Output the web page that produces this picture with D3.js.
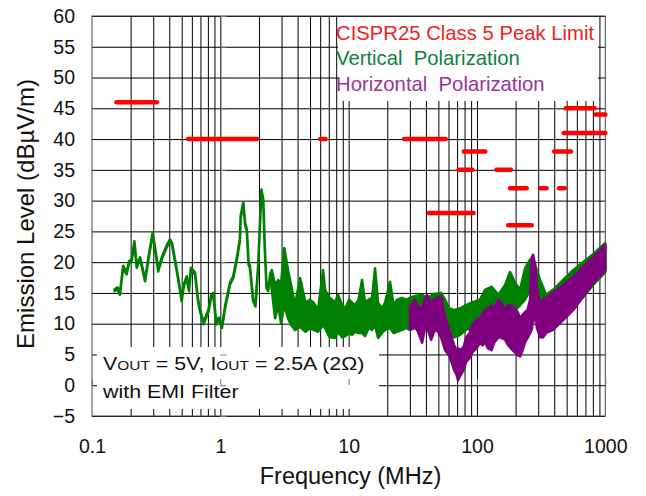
<!DOCTYPE html>
<html><head><meta charset="utf-8">
<script src="https://cdn.jsdelivr.net/npm/d3@7"></script>
<style>
body{margin:0;background:#fff}
svg{display:block}
text{font-family:"Liberation Sans",Arial,sans-serif}
</style>
</head><body>
<svg id="c" width="646" height="496"></svg>
<script>
// ---------- data ----------
const yTicks = [-5,0,5,10,15,20,25,30,35,40,45,50,55,60];
const xTicks = [0.1,1,10,100,1000];
const xTickLabels = ["0.1","1","10","100","1000"];
const xGrid = [0.2,0.3,0.4,0.5,0.6,0.7,0.8,0.9,1,2,3,4,5,6,7,8,9,10,20,30,40,50,60,70,80,90,100,200,300,400,500,600,700,800,900];

// CISPR25 class 5 peak limit segments (MHz, dBuV/m)
const limitStart = [0.155,0.56,6.0,27,42,72,79,142,181,313,436,175,400,490,842,474];
const limitEnd   = [0.32,1.93,6.6,57,94,92,116,184,244,349,482,267,540,825,1000,1000];
const limitLevel = [46,40,40,40,28,35,38,35,32,32,32,26,38,45,44,41];

// Vertical polarization (green): frequency, upper and lower edge of trace
const vertFreq = [0.15,0.158,0.165,0.175,0.186,0.194,0.204,0.214,0.223,0.237,0.259,0.278,0.297,0.31,0.328,0.35,0.38,0.405,0.42,0.458,0.50,0.52,0.547,0.57,0.59,0.635,0.67,0.695,0.74,0.78,0.81,0.85,0.88,0.93,0.975,1.03,1.09,1.19,1.26,1.34,1.42,1.44,1.51,1.56,1.61,1.66,1.70,1.80,1.88,1.97,2.09,2.16,2.22,2.29,2.36,2.45,
  2.52,2.67,2.83,2.97,3.15,3.37,3.56,3.82,4.18,4.61,5.0,5.33,5.77,6.32,6.55,7.10,7.84,8.27,8.88,9.46,10.07,10.63,11.22,11.95,12.72,13.43,14.30,15.22,16.06,16.95,18.21,19.21,21.02,22.39,23.84,26.08,28.03,30.10,32.92,37.35,40.84,46.30,52.51,56.42,60.60,66.30,73.85,82.25,92.41,105.7,115.6,130.0,147.4,165.6,181.1,198.2,216.8,237.1,259.3,283.8,310.3,345.6,391.8,469.0,561.1,671.4,803.4,1000];
const vertHigh = [15.6,15.9,15.0,19.4,18.3,20.1,20.5,23.4,19.4,20.8,17.2,21.3,24.8,22.4,18.8,20.8,22.6,23.7,23.1,18.8,14.0,16.4,17.7,15.6,19.1,18.3,14.0,12.3,10.2,11.5,12.3,14.7,15.0,10.2,11.0,9.6,12.9,16.7,17.7,20.5,23.7,27.5,29.7,26.4,25.3,19.9,19.4,14.0,13.1,19.4,31.8,30.2,22.6,16.1,15.6,18.1,
  18.7,16.3,17.1,16.3,22.3,18.7,16.3,13.0,17.4,13.4,13.9,13.4,12.2,18.7,15.5,14.2,13.5,14.7,13.0,12.5,13.9,13.4,13.0,13.9,17.1,13.4,13.9,14.2,19.0,13.4,12.5,13.4,16.8,13.0,13.9,14.2,13.9,14.2,14.5,14.7,14.2,14.8,15.0,13.9,12.5,12.2,12.5,13.0,13.5,13.9,15.5,16.0,14.7,16.3,18.4,16.6,15.5,19.0,20.4,19.5,17.1,14.7,15.5,17.1,18.7,20.0,21.3,23.1];
const vertLow = [15.3,15.6,14.7,19.1,18.0,19.8,20.2,23.1,19.1,20.5,16.9,21.0,24.5,22.1,18.5,20.5,22.3,23.4,22.8,18.5,13.7,16.1,17.4,15.3,18.8,18.0,13.7,12.0,9.9,11.2,12.0,14.4,14.7,9.9,10.7,9.3,12.6,16.4,17.4,20.2,23.4,27.2,29.4,26.1,25.0,19.6,19.1,13.7,12.8,19.1,31.5,29.9,22.3,15.8,15.3,17.8,
  15.5,10.9,13.0,10.1,13.0,10.9,9.8,9.0,9.5,8.7,9.3,9.0,8.7,9.8,9.3,7.8,7.7,8.7,7.8,8.0,8.5,8.2,8.7,8.5,8.5,8.0,9.3,9.0,9.8,7.7,8.5,9.0,9.3,8.5,8.7,9.0,9.3,9.0,9.3,9.0,9.3,9.0,9.8,9.0,8.2,7.8,8.2,9.0,9.3,9.8,10.6,10.9,10.9,11.4,13.0,12.2,13.0,13.9,15.5,13.9,12.2,11.9,10.3,10.9,12.5,14.3,16.3,18.4];

// Horizontal polarization (purple)
const horFreq = [30.1,32.92,34.75,37.35,39.05,40.84,43.88,46.30,48.87,52.51,56.42,60.60,63.39,66.30,69.34,71.24,73.85,78.64,82.25,87.56,92.41,99.3,105.7,110.6,115.6,122.0,130.0,135.9,147.4,154.1,165.6,174.8,189.4,207.3,216.8,226.7,237.1,248.0,259.3,266.4,273.6,283.8,294.1,310.3,327.5,345.6,391.8,469.0,561.1,671.4,803.4,1000];
const horHigh = [12.7,13.9,12.9,12.2,13.9,14.7,13.0,13.9,14.2,14.4,11.1,9.0,7.8,6.5,5.7,6.0,5.7,6.2,7.7,8.5,9.8,10.6,10.9,11.7,12.2,12.5,13.0,12.5,13.9,13.4,12.2,13.0,12.9,11.9,10.9,11.4,11.9,12.2,13.9,20.7,21.2,19.5,15.5,13.0,13.9,14.2,15.0,16.3,17.6,19.2,20.8,22.8];
const horLow  = [9.0,9.5,8.7,6.9,9.0,9.5,7.4,8.7,9.0,7.8,5.7,4.9,3.8,2.5,1.7,0.8,1.5,2.5,3.8,4.4,5.4,6.0,6.9,6.5,7.0,6.0,5.7,6.9,7.8,7.7,7.4,6.5,5.7,4.9,4.7,5.7,7.0,7.7,8.5,9.0,10.6,10.9,9.3,7.8,7.8,8.5,9.0,10.6,12.2,14.4,16.6,18.7];

const legendLabels = ["CISPR25 Class 5 Peak Limit","Vertical  Polarization","Horizontal  Polarization"];
const legendColors = ["#f01e23","#108040","#993399"];

// ---------- drawing ----------
const svg = d3.select("#c");
const L = 92, R = 605.3, T = 16, B = 416;
const x = d3.scaleLog().domain([0.1,1000]).range([L,R]);
const y = d3.scaleLinear().domain([-5,60]).range([B,T]);

// grid
const gx = svg.append("g").attr("transform",`translate(0,${B})`)
  .call(d3.axisBottom(x).tickValues(xGrid).tickSize(-(B-T)).tickFormat(""));
gx.select(".domain").remove();
gx.selectAll("line").attr("stroke","#000").attr("stroke-width",1);
const gy = svg.append("g").attr("transform",`translate(${L},0)`)
  .call(d3.axisLeft(y).tickValues(yTicks).tickSize(-(R-L)).tickFormat(""));
gy.select(".domain").remove();
gy.selectAll("line").attr("stroke","#000").attr("stroke-width",1);

// white boxes (legend and note)
svg.append("rect").attr("x",338).attr("y",T+1).attr("width",260).attr("height",84).attr("fill","#fff");
svg.append("rect").attr("x",97).attr("y",347).attr("width",282).attr("height",62).attr("fill","#fff");

// frame
svg.append("rect").attr("x",L).attr("y",T).attr("width",R-L).attr("height",B-T)
  .attr("fill","none").attr("stroke","#444").attr("stroke-width",1);

// axes crossing at (1 MHz, 0 dB) - short tick marks
const ay = svg.append("g").attr("transform",`translate(${x(1)},0)`)
  .call(d3.axisRight(y).tickValues(yTicks).tickSize(6).tickFormat(""));
ay.select(".domain").remove();
ay.selectAll("line").attr("stroke","#777");
const ax = svg.append("g").attr("transform",`translate(0,${y(0)})`)
  .call(d3.axisTop(x).tickValues(xTicks).tickSize(6).tickFormat(""));
ax.select(".domain").remove();
ax.selectAll("line").attr("stroke","#777");

// tick labels
const yl = svg.append("g").attr("transform",`translate(${L},0)`)
  .call(d3.axisLeft(y).tickValues(yTicks).tickSize(0).tickPadding(17));
yl.select(".domain").remove();
yl.selectAll("text").attr("font-size",19.5).attr("fill","#111").style("font-family","'Liberation Sans',Arial,sans-serif");
const xl = svg.append("g").attr("transform",`translate(0,${B})`)
  .call(d3.axisBottom(x).tickValues(xTicks).tickSize(0).tickPadding(23).tickFormat((d,i)=>xTickLabels[i]));
xl.select(".domain").remove();
xl.selectAll("text").attr("font-size",19.5).attr("fill","#111").style("font-family","'Liberation Sans',Arial,sans-serif");

// axis titles
svg.append("text").attr("x",350.5).attr("y",484).attr("text-anchor","middle")
  .attr("font-size",23.5).attr("fill","#111").text("Frequency (MHz)");
svg.append("text").attr("transform","translate(34,214) rotate(-90)").attr("text-anchor","middle")
  .attr("font-size",24).attr("fill","#111").text("Emission Level (dBµV/m)");

// traces
const vert = vertFreq.map((f,i)=>({f, hi:vertHigh[i], lo:vertLow[i]}));
const hor = horFreq.map((f,i)=>({f, hi:horHigh[i], lo:horLow[i]}));
const area = d3.area().x(d=>x(d.f)).y0(d=>y(d.lo)).y1(d=>y(d.hi));
svg.append("path").datum(vert).attr("d",area).attr("fill","#008000")
  .attr("stroke","#008000").attr("stroke-width",2.6).attr("stroke-linejoin","round");
svg.append("path").datum(hor).attr("d",area).attr("fill","#800080")
  .attr("stroke","#800080").attr("stroke-width",2.6).attr("stroke-linejoin","round");

// limit lines
svg.append("g").selectAll("line").data(limitLevel).join("line")
  .attr("x1",(d,i)=>x(limitStart[i])).attr("x2",(d,i)=>x(limitEnd[i]))
  .attr("y1",d=>y(d)).attr("y2",d=>y(d))
  .attr("stroke","#ff0000").attr("stroke-width",4.5).attr("stroke-linecap","round");

// legend
svg.append("g").selectAll("text").data(legendLabels).join("text")
  .attr("x",336).attr("y",(d,i)=>40+i*25.4)
  .attr("font-size",20.3).attr("fill",(d,i)=>legendColors[i])
  .style("white-space","pre").text(d=>d);

// note
const n1 = svg.append("text").attr("transform","translate(103,370) scale(1.19,1)").attr("font-size",18).attr("fill","#111");
n1.append("tspan").text("V");
n1.append("tspan").attr("font-size",13).text("OUT");
n1.append("tspan").text(" = 5V, I");
n1.append("tspan").attr("font-size",13).text("OUT");
n1.append("tspan").text(" = 2.5A (2Ω)");
svg.append("text").attr("transform","translate(103,398) scale(1.19,1)").attr("font-size",18).attr("fill","#111").text("with EMI Filter");
</script>
</body></html>
